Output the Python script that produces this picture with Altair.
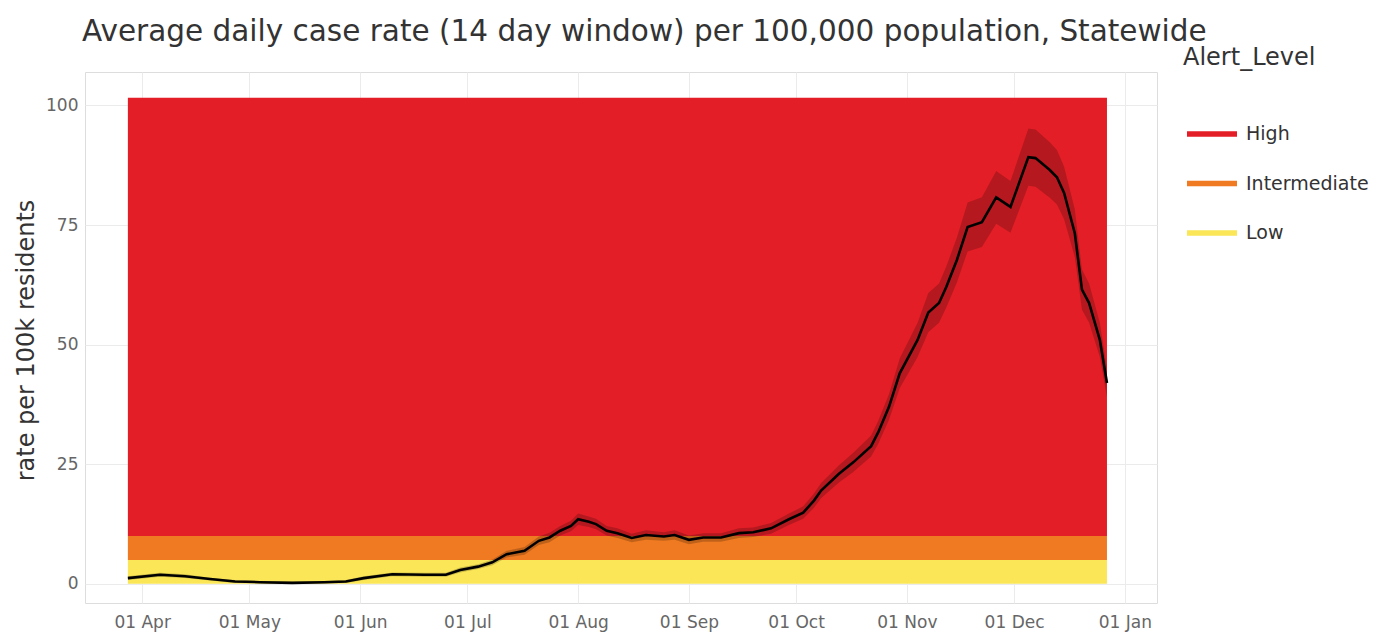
import altair as alt
import pandas as pd

dates = ["2020-03-28", "2020-04-06", "2020-04-13", "2020-04-20", "2020-04-27",
         "2020-05-04", "2020-05-13", "2020-05-22", "2020-05-28", "2020-06-02",
         "2020-06-10", "2020-06-19", "2020-06-25", "2020-06-29", "2020-07-04",
         "2020-07-08", "2020-07-12", "2020-07-17", "2020-07-21", "2020-07-24",
         "2020-07-27", "2020-07-30", "2020-08-01", "2020-08-04", "2020-08-06",
         "2020-08-09", "2020-08-12", "2020-08-16", "2020-08-20", "2020-08-25",
         "2020-08-28", "2020-09-01", "2020-09-05", "2020-09-10", "2020-09-15",
         "2020-09-19", "2020-09-24", "2020-09-29", "2020-10-03", "2020-10-06",
         "2020-10-08", "2020-10-13", "2020-10-17", "2020-10-22", "2020-10-24",
         "2020-10-27", "2020-10-30", "2020-11-04", "2020-11-07", "2020-11-10",
         "2020-11-12", "2020-11-15", "2020-11-18", "2020-11-22", "2020-11-26",
         "2020-11-30", "2020-12-05", "2020-12-07", "2020-12-11", "2020-12-13",
         "2020-12-15", "2020-12-18", "2020-12-20", "2020-12-22", "2020-12-25",
         "2020-12-27"]

rate = [1.2, 1.9, 1.6, 1.0, 0.5, 0.35, 0.2, 0.35, 0.5, 1.2,
        2.0, 1.9, 1.9, 2.9, 3.6, 4.5, 6.2, 6.9, 9.0, 9.7,
        11.1, 12.1, 13.5, 13.0, 12.5, 11.1, 10.6, 9.6, 10.2, 9.9,
        10.2, 9.2, 9.7, 9.7, 10.6, 10.8, 11.6, 13.5, 14.9, 17.4,
        19.5, 23.0, 25.4, 28.8, 31.7, 37.0, 44.0, 51.0, 56.7, 58.7,
        62.0, 67.7, 74.6, 75.6, 80.8, 78.8, 89.2, 89.0, 86.5, 85.0,
        81.7, 73.3, 61.5, 58.7, 51.0, 42.0]

rate_lo = [0.8, 1.5, 1.2, 0.7, 0.2, 0.1, 0.0, 0.1, 0.2, 0.8,
           1.6, 1.5, 1.5, 2.4, 3.1, 3.9, 5.5, 6.1, 8.1, 8.7,
           10.1, 11.0, 12.3, 11.9, 11.4, 10.1, 9.6, 8.7, 9.2, 9.0,
           9.2, 8.3, 8.8, 8.8, 9.6, 9.8, 10.5, 12.3, 13.6, 15.9,
           17.9, 21.2, 23.4, 26.6, 29.3, 34.3, 40.9, 47.4, 52.6, 54.6,
           57.7, 63.0, 69.5, 70.4, 75.3, 73.4, 83.2, 83.0, 80.7, 79.3,
           76.2, 68.3, 57.3, 54.6, 47.4, 39.0]

rate_hi = [1.6, 2.3, 2.0, 1.3, 0.8, 0.6, 0.5, 0.6, 0.8, 1.6,
           2.4, 2.3, 2.3, 3.4, 4.1, 5.1, 6.9, 7.7, 9.9, 10.7,
           12.1, 13.2, 14.7, 14.1, 13.6, 12.1, 11.6, 10.5, 11.2, 10.8,
           11.2, 10.1, 10.6, 10.6, 11.6, 11.8, 12.7, 14.7, 16.2, 18.9,
           21.1, 24.8, 27.4, 31.0, 34.1, 39.7, 47.1, 54.6, 60.8, 62.8,
           66.3, 72.4, 79.7, 80.8, 86.3, 84.2, 95.2, 95.0, 92.3, 90.7,
           87.2, 78.3, 65.7, 62.8, 54.6, 45.0]

levels = ["High", "Intermediate", "Low"]
level_lo = [10, 5, 0]
level_hi = [101.6, 10, 5]
level_colors = ["#E31E26", "#F07A21", "#FAE656"]

series = pd.DataFrame({"date": dates, "rate": rate, "lo": rate_lo, "hi": rate_hi})
bands = pd.DataFrame({
    "Alert_Level": levels,
    "y0": level_lo,
    "y1": level_hi,
    "start": [dates[0]] * len(levels),
    "end": [dates[-1]] * len(levels),
})

FONT = "DejaVu Sans"

xscale = alt.Scale(
    type="utc",
    domain=[alt.DateTime(year=2020, month=3, date=16, utc=True),
            alt.DateTime(year=2021, month=1, date=10, utc=True)],
)
yscale = alt.Scale(domain=[-4, 107], nice=False, zero=False)

xaxis = alt.Axis(
    format="%d %b", tickCount="month", grid=True, gridColor="#ebebeb",
    ticks=False, domain=False, labelPadding=11, labelFontSize=17,
    labelColor="#666666", labelFont=FONT, title=None,
)
yaxis = alt.Axis(
    values=[0, 25, 50, 75, 100], grid=True, gridColor="#ebebeb", ticks=False,
    domain=False, labelPadding=7, labelFontSize=17, labelColor="#666666",
    labelFont=FONT, title="rate per 100k residents", titleFontSize=24,
    titleColor="#333333", titleFont=FONT, titleFontWeight="normal",
    titleX=-59, titleY=268, titleBaseline="middle", titleAlign="center",
    titleAngle=270,
)

band_chart = alt.Chart(bands).mark_rect().encode(
    x=alt.X("start:T", scale=xscale, axis=xaxis),
    x2="end:T",
    y=alt.Y("y0:Q", scale=yscale, axis=yaxis),
    y2="y1:Q",
    color=alt.Color(
        "Alert_Level:N",
        scale=alt.Scale(domain=levels, range=level_colors),
        sort=levels,
        legend=alt.Legend(
            title="Alert_Level", orient="none", legendX=1098, legendY=-26,
            direction="vertical",
            symbolType="M-1,-0.11H1V0.11H-1Z", symbolSize=2500,
            symbolStrokeWidth=0, symbolOffset=4,
            titleFontSize=24, titleFont=FONT, titleFontWeight="normal",
            titleColor="#333333", titlePadding=39,
            labelFontSize=19, labelFont=FONT, labelColor="#333333",
            labelOffset=9, rowPadding=14.5, padding=0,
        ),
    ),
)

ribbon = alt.Chart(series).mark_area(color="black", opacity=0.2).encode(
    x=alt.X("date:T", scale=xscale),
    y=alt.Y("lo:Q", scale=yscale),
    y2="hi:Q",
)

line = alt.Chart(series).mark_line(color="black", strokeWidth=2.6).encode(
    x=alt.X("date:T", scale=xscale),
    y=alt.Y("rate:Q", scale=yscale),
)

chart = alt.layer(band_chart, ribbon, line).properties(
    width=1072,
    height=531,
    autosize=alt.AutoSizeParams(type="none"),
    padding={"left": 77, "top": 64, "right": 220, "bottom": 30},
    title=alt.TitleParams(
        "Average daily case rate (14 day window) per 100,000 population, Statewide",
        anchor="start", frame="group", dx=-3, dy=32, offset=8, baseline="alphabetic",
        fontSize=29.5, font=FONT, fontWeight="normal", color="#333333",
    ),
).configure_view(stroke=None).configure(background="white")

chart.save("out.html", embed_options={"renderer": "svg", "actions": False})
